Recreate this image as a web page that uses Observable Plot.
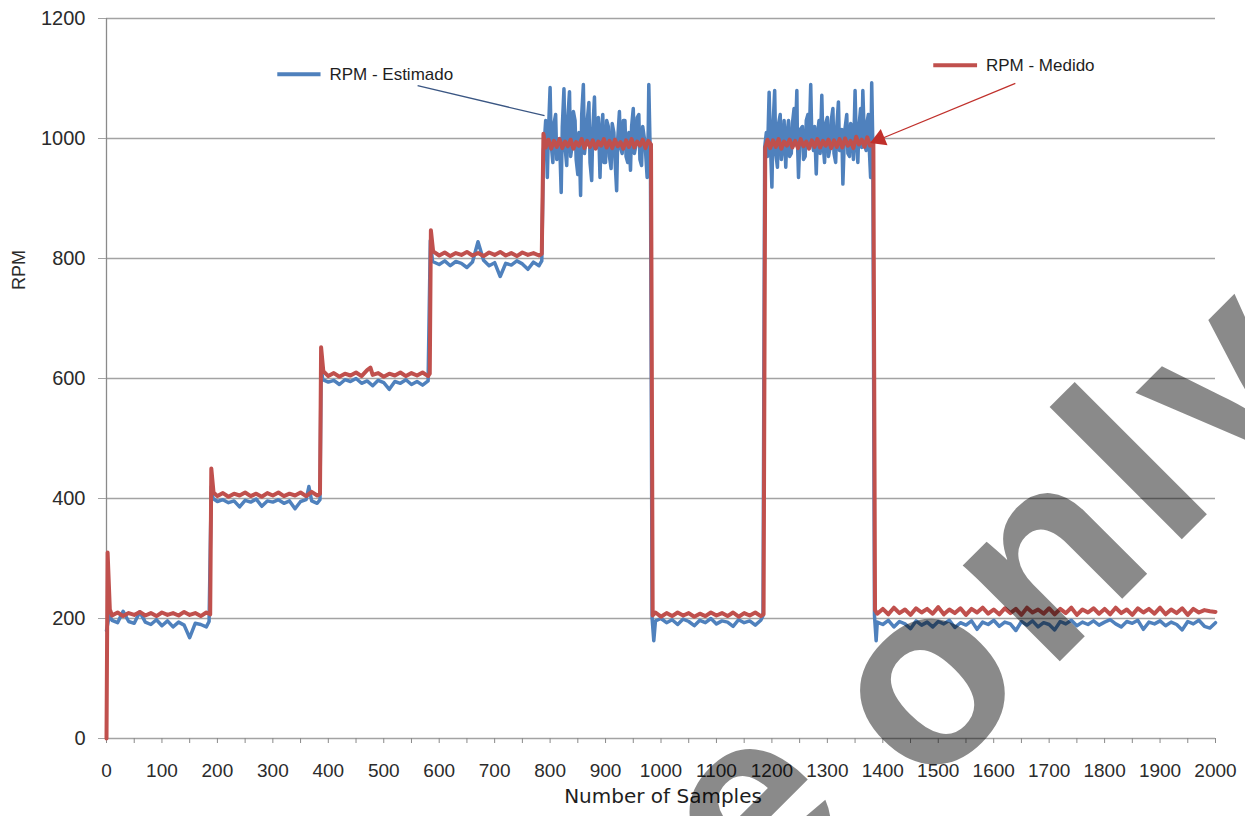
<!DOCTYPE html>
<html><head><meta charset="utf-8">
<script src="https://cdn.jsdelivr.net/npm/d3@7"></script>
<script src="https://cdn.jsdelivr.net/npm/@observablehq/plot@0.6"></script>
<style>
html,body{margin:0;padding:0;background:#fff;}
#chart{position:relative;width:1245px;height:816px;overflow:hidden;}
</style></head><body><div id="chart"></div>
<script>
// ---- data ----
const estSamples = [
  0,5,10,20,30,40,50,60,70,80,90,100,110,120,130,140,150,160,170,180,185,
  189,192,
  200,210,220,230,240,250,260,270,280,290,300,310,320,330,340,350,360,365,370,380,385,
  387,390,
  400,410,420,430,440,450,460,470,480,490,500,510,520,530,540,550,560,570,580,
  584,588,
  600,610,620,630,640,650,660,670,680,690,700,710,720,730,740,750,760,770,780,785,
  788,790,792,795,797,800,802,805,807,810,812,815,817,820,822,825,827,830,832,835,
  837,840,842,845,847,850,852,855,857,860,862,865,867,870,872,875,877,880,882,885,
  887,890,892,895,897,900,902,905,907,910,912,915,917,920,922,925,927,930,932,935,
  937,940,942,945,947,950,952,955,957,960,962,965,967,970,972,975,977,978,980,981,
  984,987,
  990,1000,1010,1020,1030,1040,1050,1060,1070,1080,1090,1100,1110,1120,1130,1140,1150,1160,1170,1180,1184,
  1187,1190,1192,1195,1197,1200,1202,1205,1207,1210,1212,1215,1217,1220,1222,1225,1227,1230,1232,1235,
  1237,1240,1242,1245,1246,1248,1251,1255,1257,1260,1262,1265,1267,1270,1272,1275,1277,1280,1282,1285,
  1287,1290,1292,1295,1297,1300,1302,1305,1307,1310,1312,1315,1317,1320,1322,1325,1326,1328,1331,1335,
  1337,1340,1342,1345,1347,1350,1352,1355,1357,1360,1362,1364,1367,1370,1372,1374,1376,1378,1380,1382,
  1385,1388,
  1390,1400,1410,1420,1430,1440,1450,1460,1470,1480,1490,1500,1510,1520,1530,1540,1550,1560,1570,1580,
  1590,1600,1610,1620,1630,1640,1650,1660,1670,1680,1690,1700,1710,1720,1730,1740,1750,1760,1770,1780,
  1790,1800,1810,1820,1830,1840,1850,1860,1870,1880,1890,1900,1910,1920,1930,1940,1950,1960,1970,1980,1990,2000
];
const estRPM = [
  180,205,197,193,212,195,192,211,194,190,198,188,196,186,194,189,168,192,190,186,195,
  420,400,
  395,398,393,396,386,397,394,399,387,396,394,398,392,396,383,395,398,420,396,392,398,
  620,598,
  594,597,590,598,595,600,592,596,588,597,593,582,595,592,598,590,595,589,596,
  830,795,
  790,796,788,795,792,785,794,828,797,788,793,770,792,789,796,791,782,794,788,796,
  980,1000,1030,935,1010,1085,990,960,1025,1040,965,975,1000,910,1020,1083,985,955,1035,1078,
  970,990,1045,1030,965,940,1010,905,1040,1090,975,1000,1030,1060,960,930,1015,1069,990,985,
  1035,935,1005,1040,960,960,1030,1020,970,950,1025,1010,965,913,1000,1045,985,975,1030,1030,
  970,960,1010,947,1020,1050,975,990,1035,1040,965,955,1020,1000,980,935,1015,1090,1000,960,
  200,163,
  196,200,193,198,190,199,195,188,197,193,200,191,196,194,187,198,193,196,189,197,205,
  985,1010,970,1077,1000,919,1020,1080,975,952,1025,1040,965,990,1030,952,1005,1030,970,975,
  1025,1050,990,1080,1000,935,1015,1020,965,970,1030,1040,985,1090,1000,980,1020,941,1005,1030,
  975,1072,995,960,1025,1035,970,985,1030,1050,975,960,1020,1061,980,990,1015,924,1010,1040,
  975,970,1025,1020,965,1080,1000,960,1020,1050,985,1080,990,980,1030,1040,975,935,1093,990,
  205,163,
  194,190,197,186,195,191,183,196,189,194,186,195,191,197,185,193,189,196,182,194,
  190,197,187,194,191,180,195,189,196,186,193,190,181,195,191,197,188,194,190,196,
  189,194,198,191,186,195,192,197,182,194,191,196,188,194,190,181,195,191,197,187,184,193
];
const medSamples = [
  0,2,6,
  10,20,30,40,50,60,70,80,90,100,110,120,130,140,150,160,170,180,187,
  189,
  193,200,210,220,230,240,250,260,270,280,290,300,310,320,330,340,350,360,370,380,385,
  387,
  391,400,410,420,430,440,450,460,470,476,480,490,500,510,520,530,540,550,560,570,580,583,
  585,
  589,600,610,620,630,640,650,660,670,680,690,700,710,720,730,740,750,760,770,780,785,
  788,792,797,802,807,812,817,822,827,832,837,842,847,852,857,862,867,872,877,882,
  887,892,897,902,907,912,917,922,927,932,937,942,947,952,957,962,967,972,977,982,
  985,990,1000,1010,1020,1030,1040,1050,1060,1070,1080,1090,1100,1110,1120,1130,1140,1150,1160,1170,1180,1185,
  1188,1192,1197,1202,1207,1212,1217,1222,1227,1232,1237,1242,1247,1252,1257,1262,1267,1272,1277,1282,
  1287,1292,1297,1302,1307,1312,1317,1322,1327,1332,1337,1342,1347,1352,1357,1362,1367,1372,1377,1383,
  1386,1390,
  1400,1410,1420,1430,1440,1450,1460,1470,1480,1490,1500,1510,1520,1530,1540,1550,1560,1570,1580,1590,
  1600,1610,1620,1630,1640,1650,1660,1670,1680,1690,1700,1710,1720,1730,1740,1750,1760,1770,1780,1790,
  1800,1810,1820,1830,1840,1850,1860,1870,1880,1890,1900,1910,1920,1930,1940,1950,1960,1970,1980,1990,2000
];
const medRPM = [
  0,310,215,
  205,210,204,209,206,211,205,209,204,210,206,209,205,211,206,209,204,210,207,
  450,
  410,404,409,403,408,405,410,404,408,403,409,405,410,404,408,405,410,404,411,405,408,
  652,
  612,604,609,603,608,605,610,604,614,618,606,609,603,608,605,610,604,609,605,610,604,608,
  847,
  812,805,810,804,809,806,811,805,809,804,810,806,811,805,809,804,810,806,809,805,808,
  1008,985,998,983,996,986,999,984,995,987,998,983,994,988,999,984,996,986,997,983,
  995,988,999,985,996,984,998,987,994,983,997,986,999,985,995,988,998,984,996,990,
  205,210,203,209,204,210,205,209,203,208,204,210,205,209,204,210,203,209,205,210,204,207,
  985,998,984,997,986,999,983,995,988,998,985,996,984,999,987,995,983,997,986,999,
  985,996,988,998,984,997,986,999,985,1000,988,996,984,1003,990,998,986,1002,988,994,
  214,208,
  216,207,218,209,215,206,217,210,216,208,219,207,215,209,217,206,216,210,218,208,
  215,207,217,209,216,206,218,210,215,208,217,207,216,209,218,206,215,210,217,208,
  216,207,218,209,215,206,217,210,216,208,218,207,215,209,217,206,216,210,214,212,211
];
const yTicks = [0,200,400,600,800,1000,1200];
const xTicks = [0,100,200,300,400,500,600,700,800,900,1000,1100,1200,1300,1400,1500,1600,1700,1800,1900,2000];
const xMinorTicks = [0,50,100,150,200,250,300,350,400,450,500,550,600,650,700,750,800,850,900,950,1000,
  1050,1100,1150,1200,1250,1300,1350,1400,1450,1500,1550,1600,1650,1700,1750,1800,1850,1900,1950,2000];
const seriesNames = ["RPM - Estimado", "RPM - Medido"];
const seriesColors = ["#4F81BD", "#C0504D"];

// ---- annotation layout (in data units) ----
const legend = [
  {label: seriesNames[0], color: seriesColors[0], x1: 308, x2: 386, xt: 402, y: 1107},
  {label: seriesNames[1], color: seriesColors[1], x1: 1491, x2: 1570, xt: 1586, y: 1122}
];
const leaders = [
  {x1: 561, y1: 1088, x2: 790, y2: 1038, color: "#3a5683"},
  {x1: 1639, y1: 1092, x2: 1398, y2: 1000, color: "#c0302b"}
];
const arrowHeads = [{x: 1394, y: 999, color: "#c0302b"}];

const est = estSamples.map((s, i) => ({sample: s, rpm: estRPM[i]}));
const med = medSamples.map((s, i) => ({sample: s, rpm: medRPM[i]}));
const plain = d => String(d);

const chart = Plot.plot({
  width: 1245, height: 816,
  marginLeft: 106, marginRight: 30, marginTop: 18, marginBottom: 78,
  style: {fontFamily: "'Liberation Sans', Arial, sans-serif", background: "#fff", overflow: "visible"},
  x: {domain: [0, 2000], label: null},
  y: {domain: [0, 1200], label: null},
  color: {type: "identity"},
  marks: [
    Plot.ruleY(yTicks, {stroke: "#a3a3a3", strokeWidth: 1.3}),
    Plot.ruleX([0], {stroke: "#8a8a8a", strokeWidth: 1.3}),
    Plot.axisY(yTicks, {tickSize: 8, tickPadding: 13, fontSize: 20, fill: "#2b2b2b", stroke: "#a3a3a3", tickFormat: plain, label: null}),
    Plot.axisX(xMinorTicks, {tickSize: 5, tickFormat: () => "", stroke: "#8a8a8a", label: null}),
    Plot.axisX(xTicks, {tickSize: 0, tickPadding: 25, fontSize: 19, fill: "#2b2b2b", tickFormat: plain, label: null}),
    Plot.line(est, {x: "sample", y: "rpm", stroke: seriesColors[0], strokeWidth: 3.5}),
    Plot.line(med, {x: "sample", y: "rpm", stroke: seriesColors[1], strokeWidth: 4}),
    Plot.link(legend, {x1: "x1", x2: "x2", y1: "y", y2: "y", stroke: "color", strokeWidth: 4}),
    Plot.text(legend, {x: "xt", y: "y", text: "label", textAnchor: "start", fontSize: 17, fill: "#1e1e1e"}),
    Plot.link(leaders, {x1: "x1", y1: "y1", x2: "x2", y2: "y2", stroke: "color", strokeWidth: 1.3}),
    Plot.dot(arrowHeads, {x: "x", y: "y", symbol: "triangle", r: 6.5, rotate: 247.5, fill: "color", stroke: "none"})
  ]
});
document.getElementById("chart").append(chart);

const svg = d3.select(chart);
svg.append("text")
  .attr("transform", "translate(19,270) rotate(-90)")
  .attr("text-anchor", "middle").attr("dominant-baseline", "central")
  .attr("font-family", "'Liberation Sans', Arial, sans-serif").attr("font-size", 18).attr("fill", "#2b2b2b")
  .text("RPM");
svg.append("text")
  .attr("x", 663).attr("y", 803).attr("text-anchor", "middle")
  .attr("font-family", "'DejaVu Sans', sans-serif").attr("font-size", 20).attr("fill", "#1e1e1e")
  .text("Number of Samples");
// watermark
const wm = svg.append("g").attr("fill", "#000").attr("fill-opacity", 0.46)
  .attr("font-family", "'Liberation Sans', Arial, sans-serif").attr("font-weight", "bold")
  .attr("font-size", 258).attr("letter-spacing", 15);
wm.append("text").attr("transform", "translate(925,796) rotate(-45)").attr("text-anchor", "start").text("only");
wm.append("text").attr("transform", "translate(868,806) rotate(-45)").attr("text-anchor", "end").text("for reference");
</script>
</body></html>
